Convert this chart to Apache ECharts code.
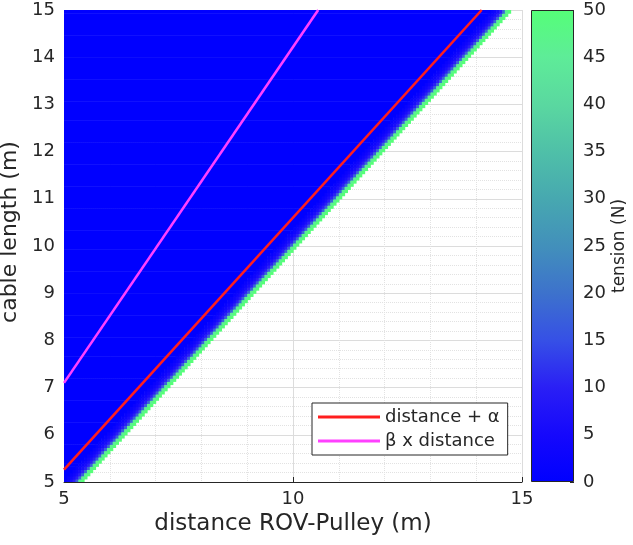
<!DOCTYPE html>
<html>
<head>
<meta charset="utf-8">
<script src="https://cdn.jsdelivr.net/npm/echarts@6/dist/echarts.min.js"></script>
<style>
html, body { margin: 0; padding: 0; background: #fff; }
#chart { width: 633px; height: 545px; }
</style>
</head>
<body>
<div id="chart"></div>
<script>
// tension map: 160 distance cells x 150 cable length cells over 5..15 m
var distanceCells = 160;
var lengthCells = 150;
// right edge of the computed region (distance, m), read at each cable length
var edgeLength = [5, 6, 7, 8, 9, 10, 11, 12, 13, 14, 15];
var edgeDistance = [5.41, 6.35, 7.29, 8.23, 9.17, 10.10, 11.04, 11.98, 12.92, 13.86, 14.80];
// tension of the cells next to that edge (N), edge cell first; 0 further left
var bandTension = [50, 46, 18, 10, 6, 3.5, 2];

// curves (distance, cable length)
var redLine = [[5, 5.26], [14.12, 15]];
var magentaLine = [[5, 7.1], [10.55, 15]];

// colormap 0..50 N, one colour every 5 N
var tensionColors = ['#0000ff', '#1508fc', '#2a1ff5', '#3650e6', '#3d72cc', '#4290bb',
    '#47a8b0', '#4fc0a8', '#5ad8a0', '#5eec98', '#55ff78'];

var font = 'DejaVu Sans';
var ink = '#262626';

var cellW = 10 / distanceCells;
var cellH = 10 / lengthCells;

function edgeAt(len) {
    for (var n = 0; n < edgeLength.length - 1; n++) {
        if (len <= edgeLength[n + 1]) {
            var t = (len - edgeLength[n]) / (edgeLength[n + 1] - edgeLength[n]);
            return edgeDistance[n] + t * (edgeDistance[n + 1] - edgeDistance[n]);
        }
    }
    return edgeDistance[edgeDistance.length - 1];
}

// cells as [distance from, distance to, cable length, tension];
// the zero-tension part of a row is kept as one run
var cells = [];
for (var j = 0; j < lengthCells; j++) {
    var len = 5 + (j + 0.5) * cellH;
    var edge = edgeAt(len);
    var last = Math.min(distanceCells - 1, Math.floor((edge - 5) / cellW - 0.5));
    var bandStart = Math.max(0, last - bandTension.length + 1);
    if (bandStart > 0) cells.push([5, 5 + bandStart * cellW, len, 0]);
    for (var i = bandStart; i <= last; i++) {
        cells.push([5 + i * cellW, 5 + (i + 1) * cellW, len, bandTension[last - i]]);
    }
}

var stops = tensionColors.map(function (c, n) {
    return { offset: n / (tensionColors.length - 1), color: c };
});

function renderCell(params, api) {
    var p0 = api.coord([api.value(0), api.value(2) + cellH / 2]);
    var p1 = api.coord([api.value(1), api.value(2) - cellH / 2]);
    return {
        type: 'rect',
        shape: { x: p0[0], y: p0[1], width: p1[0] - p0[0] + 0.6, height: p1[1] - p0[1] + 0.6 },
        style: { fill: api.visual('color') }
    };
}

var chart = echarts.init(document.getElementById('chart'));
chart.setOption({
    animation: false,
    textStyle: { fontFamily: font },
    grid: [
        { left: 64, right: 111, top: 10, bottom: 63, outerBoundsMode: 'none' },
        { left: 531, right: 59, top: 10, bottom: 63, outerBoundsMode: 'none' }
    ],
    visualMap: {
        type: 'continuous',
        show: false,
        min: 0,
        max: 50,
        dimension: 3,
        seriesIndex: 0,
        inRange: { color: tensionColors }
    },
    legend: {
        data: [
            { name: 'distance + α', icon: 'rect' },
            { name: 'β x distance', icon: 'rect' }
        ],
        orient: 'vertical',
        left: 312,
        top: 403,
        itemWidth: 62,
        itemHeight: 3,
        itemGap: 6,
        padding: [5, 8, 5, 6],
        backgroundColor: '#fff',
        borderColor: ink,
        borderWidth: 1,
        borderRadius: 0,
        textStyle: { fontSize: 18, color: ink, fontFamily: font }
    },
    xAxis: [
        {
            type: 'value', gridIndex: 0, min: 5, max: 15, interval: 5, position: 'bottom',
            name: 'distance ROV-Pulley (m)', nameLocation: 'middle', nameGap: 28,
            nameTextStyle: { fontSize: 23, color: ink, fontFamily: font },
            axisLine: { lineStyle: { color: ink, width: 1 } },
            axisTick: { inside: true, length: 5, lineStyle: { color: ink } },
            axisLabel: { fontSize: 18, color: ink, margin: 8, fontFamily: font },
            splitLine: { show: true, lineStyle: { color: '#dcdcdc', width: 1 } },
            minorTick: { show: false, splitNumber: 5 },
            minorSplitLine: { show: true, lineStyle: { color: '#e2e2e2', type: 'dotted', width: 1 } }
        },
        { type: 'category', gridIndex: 1, data: ['bar'], show: false }
    ],
    yAxis: [
        {
            type: 'value', gridIndex: 0, min: 5, max: 15, interval: 1, position: 'left',
            name: 'cable length (m)', nameLocation: 'middle', nameGap: 37, nameRotate: 90,
            nameTextStyle: { fontSize: 22, color: ink, fontFamily: font, padding: [0, 0, 0, 28] },
            axisLine: { show: false },
            axisTick: { show: false },
            axisLabel: { fontSize: 18, color: ink, margin: 9, fontFamily: font },
            splitLine: { show: true, lineStyle: { color: '#dcdcdc', width: 1 } },
            minorTick: { show: false, splitNumber: 5 },
            minorSplitLine: { show: true, lineStyle: { color: '#e2e2e2', type: 'dotted', width: 1 } }
        },
        {
            type: 'value', gridIndex: 1, min: 0, max: 50, interval: 5, position: 'right',
            name: 'tension (N)', nameLocation: 'middle', nameGap: 37, nameRotate: 90,
            nameTextStyle: { fontSize: 17, color: ink, fontFamily: font },
            axisLine: { show: false },
            axisTick: { show: true, inside: true, length: 4, lineStyle: { color: ink } },
            axisLabel: { fontSize: 18, color: ink, margin: 9, fontFamily: font },
            splitLine: { show: false }
        }
    ],
    series: [
        {
            type: 'custom',
            xAxisIndex: 0,
            yAxisIndex: 0,
            data: cells,
            encode: { x: [0, 1], y: 2 },
            renderItem: renderCell,
            clip: true,
            silent: true
        },
        {
            name: 'distance + α',
            type: 'line',
            xAxisIndex: 0,
            yAxisIndex: 0,
            data: redLine,
            symbol: 'none',
            lineStyle: { color: '#ff1e1e', width: 2.6 },
            itemStyle: { color: '#ff1e1e' },
            z: 5
        },
        {
            name: 'β x distance',
            type: 'line',
            xAxisIndex: 0,
            yAxisIndex: 0,
            data: magentaLine,
            symbol: 'none',
            lineStyle: { color: '#ff40ff', width: 2.6 },
            itemStyle: { color: '#ff40ff' },
            z: 5
        },
        {
            type: 'bar',
            xAxisIndex: 1,
            yAxisIndex: 1,
            data: [50],
            barWidth: '100%',
            silent: true,
            itemStyle: {
                color: new echarts.graphic.LinearGradient(0, 1, 0, 0, stops),
                borderColor: ink,
                borderWidth: 1
            }
        }
    ]
});
</script>
</body>
</html>
